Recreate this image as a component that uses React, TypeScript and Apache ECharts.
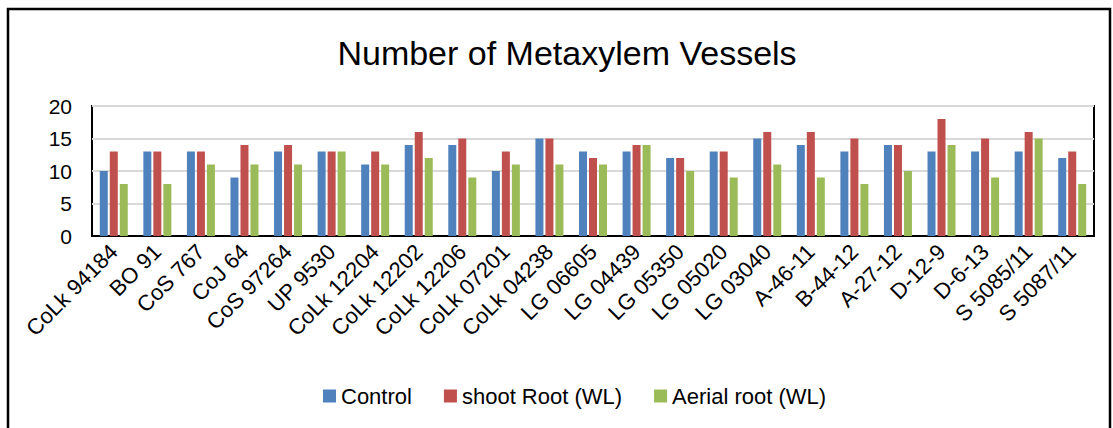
import React, { useEffect, useRef } from "react";
import * as echarts from "echarts";

const categories = [
  "CoLk 94184", "BO 91", "CoS 767", "CoJ 64", "CoS 97264", "UP 9530",
  "CoLk 12204", "CoLk 12202", "CoLk 12206", "CoLk 07201", "CoLk 04238",
  "LG 06605", "LG 04439", "LG 05350", "LG 05020", "LG 03040", "A-46-11",
  "B-44-12", "A-27-12", "D-12-9", "D-6-13", "S 5085/11", "S 5087/11",
];
const control = [10, 13, 13, 9, 13, 13, 11, 14, 14, 10, 15, 13, 13, 12, 13, 15, 14, 13, 14, 13, 13, 13, 12];
const shootRoot = [13, 13, 13, 14, 14, 13, 13, 16, 15, 13, 15, 12, 14, 12, 13, 16, 16, 15, 14, 18, 15, 16, 13];
const aerialRoot = [8, 8, 11, 11, 11, 13, 11, 12, 9, 11, 11, 11, 14, 10, 9, 11, 9, 8, 10, 14, 9, 15, 8];
const seriesNames = ["Control", "shoot Root (WL)", "Aerial root (WL)"];
const colors = ["#4F81BD", "#C0504D", "#9BBB59"];

const FONT = "Liberation Sans";

export default function App() {
  const ref = useRef<HTMLDivElement>(null);
  useEffect(() => {
    if (!ref.current) return;
    const chart = echarts.init(ref.current, null, { renderer: "svg" });
    const data = [control, shootRoot, aerialRoot];
    chart.setOption({
      animation: false,
      backgroundColor: "#ffffff",
      textStyle: { fontFamily: FONT },
      title: {
        text: "Number of Metaxylem Vessels",
        left: 562,
        textAlign: "center",
        top: 31,
        textStyle: { fontFamily: FONT, fontSize: 34, fontWeight: "normal", color: "#000" },
      },
      graphic: [
        {
          type: "rect",
          shape: { x: 8, y: 9, width: 1102, height: 440 },
          style: { fill: "none", stroke: "#000", lineWidth: 2.5 },
          silent: true,
        },
      ],
      legend: {
        data: seriesNames,
        left: 318,
        top: 380,
        itemWidth: 13,
        itemHeight: 13,
        itemGap: 32,
        icon: "rect",
        textStyle: { fontFamily: FONT, fontSize: 22, color: "#000" },
      },
      grid: {
        left: 92,
        right: 19,
        top: 106,
        bottom: 192,
        show: true,
        borderColor: "#000",
        borderWidth: 2,
        containLabel: false,
      },
      xAxis: {
        type: "category",
        data: categories,
        axisLine: { show: true, lineStyle: { color: "#000", width: 2 } },
        axisTick: { show: false },
        axisLabel: {
          rotate: 45,
          interval: 0,
          margin: 12,
          fontFamily: FONT,
          fontSize: 22,
          color: "#000",
        },
      },
      yAxis: {
        type: "value",
        min: 0,
        max: 20,
        interval: 5,
        axisLine: { show: false },
        axisTick: { show: false },
        splitLine: { show: true, lineStyle: { color: "#D9D9D9", width: 2 } },
        axisLabel: { fontFamily: FONT, fontSize: 21, color: "#000", margin: 20 },
      },
      series: seriesNames.map((name, i) => ({
        name,
        type: "bar",
        data: data[i],
        barWidth: 8,
        barGap: "25%",
        itemStyle: { color: colors[i] },
      })),
    });
    return () => chart.dispose();
  }, []);
  return <div ref={ref} style={{ width: 1113, height: 428, position: "absolute", left: 0, top: 0 }} />;
}
